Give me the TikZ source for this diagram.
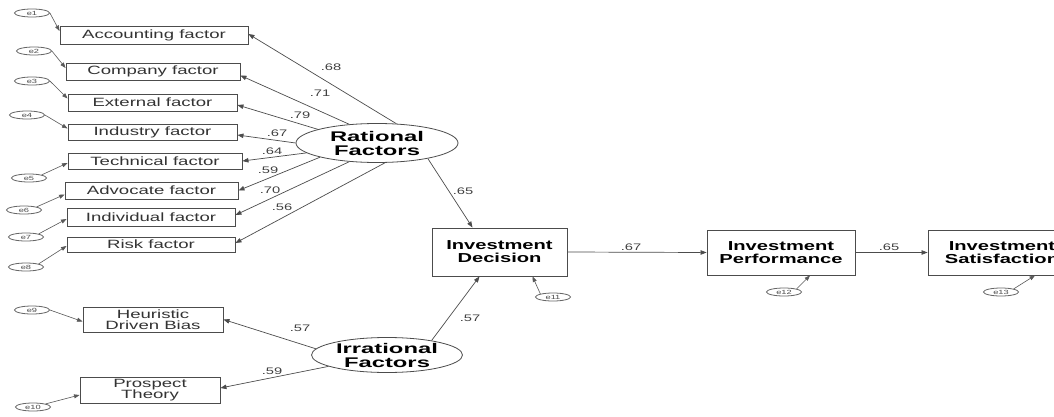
\documentclass[tikz,border=0pt]{standalone}
\usepackage{fontspec}
\setmainfont{Liberation Sans}
\newfontfamily\wf[FakeStretch=1.55]{Liberation Sans}
\newfontfamily\ef[FakeStretch=1.7]{Liberation Sans}
\usetikzlibrary{arrows.meta,shapes.geometric}
\begin{document}
\begin{tikzpicture}[x=1pt,y=-1pt,
 line/.style={draw=black!70, line width=0.7pt},
 arr/.style={line, -{Triangle[length=6pt,width=4.5pt]}},
 earr/.style={draw=black!65, line width=0.6pt, -{Triangle[length=5.5pt,width=4pt]}},
 box/.style={draw=black!70, line width=0.9pt, inner sep=0pt, align=center, font=\fontsize{12}{11.5}\wf, text=black!80},
 big/.style={box, font=\fontsize{13}{13}\wf\bfseries, text=black},
 latent/.style={ellipse, draw=black!70, line width=0.8pt, inner sep=0pt},
 lattext/.style={align=center, inner sep=0pt, font=\fontsize{14}{14}\ef\bfseries},
 err/.style={ellipse, draw=black!60, line width=0.8pt, minimum width=35pt, minimum height=8pt, inner sep=0pt, font=\fontsize{6}{6}\wf, text=black!70},
 coef/.style={font=\fontsize{9.5}{10}\wf, text=black!75, inner sep=0pt}
]
\fill[white] (0,0) rectangle (1054,417);
\useasboundingbox (0,0) rectangle (1054,417);

% observed indicators
\node[box, minimum width=188pt, minimum height=18pt] (acc) at (154,35) {Accounting factor};
\node[box, minimum width=174pt, minimum height=17pt] (com) at (153,71.5) {Company factor};
\node[box, minimum width=169pt, minimum height=17pt] (ext) at (152.5,102.5) {External factor};
\node[box, minimum width=169pt, minimum height=16pt] (ind) at (152.5,132) {Industry factor};
\node[box, minimum width=174pt, minimum height=16pt] (tec) at (155,161) {Technical factor};
\node[box, minimum width=173pt, minimum height=17pt] (adv) at (151.5,190.5) {Advocate factor};
\node[box, minimum width=168pt, minimum height=18pt] (idv) at (151,217) {Individual factor};
\node[box, minimum width=168pt, minimum height=15pt] (risk) at (151,244.5) {Risk factor};
\node[box, minimum width=140pt, minimum height=25pt] (heu) at (153,319.5) {Heuristic\\Driven Bias};
\node[box, minimum width=140pt, minimum height=26pt] (pro) at (150,390) {Prospect\\Theory};

% main boxes
\node[big, minimum width=135pt, minimum height=48pt] (id) at (499.5,252) {Investment\\Decision};
\node[big, minimum width=148pt, minimum height=45pt] (ip) at (781,252.5) {Investment\\Performance};
\node[big, minimum width=148pt, minimum height=45pt] (is) at (1002,252.5) {Investment\\Satisfaction};

% latent variables
\node[latent, minimum width=162pt, minimum height=39pt] (rat) at (377,143) {};
\node[lattext] (ratT) at (rat.center) {Rational\\Factors};
\node[latent, minimum width=151pt, minimum height=35pt] (irr) at (387,355) {};
\node[lattext] (irrT) at (irr.center) {Irrational\\Factors};

% error terms
\node[err] (e1) at (32,13) {e1};
\node[err] (e2) at (34,51) {e2};
\node[err] (e3) at (32,81) {e3};
\node[err] (e4) at (27,115) {e4};
\node[err] (e5) at (29,178) {e5};
\node[err] (e6) at (24,210) {e6};
\node[err] (e7) at (26,237) {e7};
\node[err] (e8) at (26,267) {e8};
\node[err] (e9) at (32,310) {e9};
\node[err] (e10) at (33,407) {e10};
\node[err] (e11) at (553,297) {e11};
\node[err] (e12) at (784,292) {e12};
\node[err] (e13) at (1001,292) {e13};

\draw[earr] (e1.east) -- ([yshift=4pt]acc.west);
\draw[earr] (e2.east) -- ([yshift=3.5pt]com.west);
\draw[earr] (e3.east) -- ([yshift=4pt]ext.west);
\draw[earr] (e4.east) -- ([yshift=3.5pt]ind.west);
\draw[earr] (e5.north east) -- ([yshift=-2pt]tec.west);
\draw[earr] (e6.north east) -- ([yshift=-4pt]adv.west);
\draw[earr] (e7.north east) -- ([yshift=-2pt]idv.west);
\draw[earr] (e8.north east) -- ([yshift=-1.5pt]risk.west);
\draw[earr] (e9.east) -- ([yshift=-2pt]heu.west);
\draw[earr] (e10.north east) -- ([yshift=-5pt]pro.west);
\draw[earr] (e11.north west) -- ([xshift=33pt]id.south);
\draw[earr] (e12.north east) -- ([xshift=29pt]ip.south);
\draw[earr] (e13.north east) -- ([xshift=33pt]is.south);

% loadings of rational factors
\draw[arr] (rat.45) -- ([yshift=1pt]acc.east);
\draw[arr] (rat.146) -- ([yshift=-4pt]com.east);
\draw[arr] (rat.167) -- ([yshift=-2.5pt]ext.east);
\draw[arr] (rat.180) -- ([yshift=-3pt]ind.east);
\draw[arr] (rat.188) -- (tec.east);
\draw[arr] (rat.194) -- (adv.east);
\draw[arr] (rat.214) -- ([yshift=2pt]idv.east);
\draw[arr] (rat.292) -- ([yshift=1.5pt]risk.east);
\draw[arr] (rat.343) -- ([xshift=-27pt]id.north);

% irrational factors
\draw[arr] (irr.175) -- (heu.east);
\draw[arr] (irr.191) -- ([yshift=2pt]pro.east);
\draw[arr] (irr.18) -- ([xshift=-20pt]id.south);

% structural paths
\draw[arr] (id.east) -- (ip.west);
\draw[arr] (ip.east) -- (is.west);

% coefficients
\node[coef] (c68) at (331,67) {.68};
\node[coef] (c71) at (320,93) {.71};
\node[coef] (c79) at (300,115) {.79};
\node[coef] (c67) at (277,133) {.67};
\node[coef] (c64) at (272,151) {.64};
\node[coef] (c59) at (268,170) {.59};
\node[coef] (c70) at (270,190) {.70};
\node[coef] (c56) at (282,207) {.56};
\node[coef] (c65a) at (463,191) {.65};
\node[coef] (c57a) at (470,318) {.57};
\node[coef] (c57b) at (300,328) {.57};
\node[coef] (c59b) at (272,371) {.59};
\node[coef] (c67b) at (631,247) {.67};
\node[coef] (c65b) at (889,247) {.65};
\end{tikzpicture}
\end{document}
